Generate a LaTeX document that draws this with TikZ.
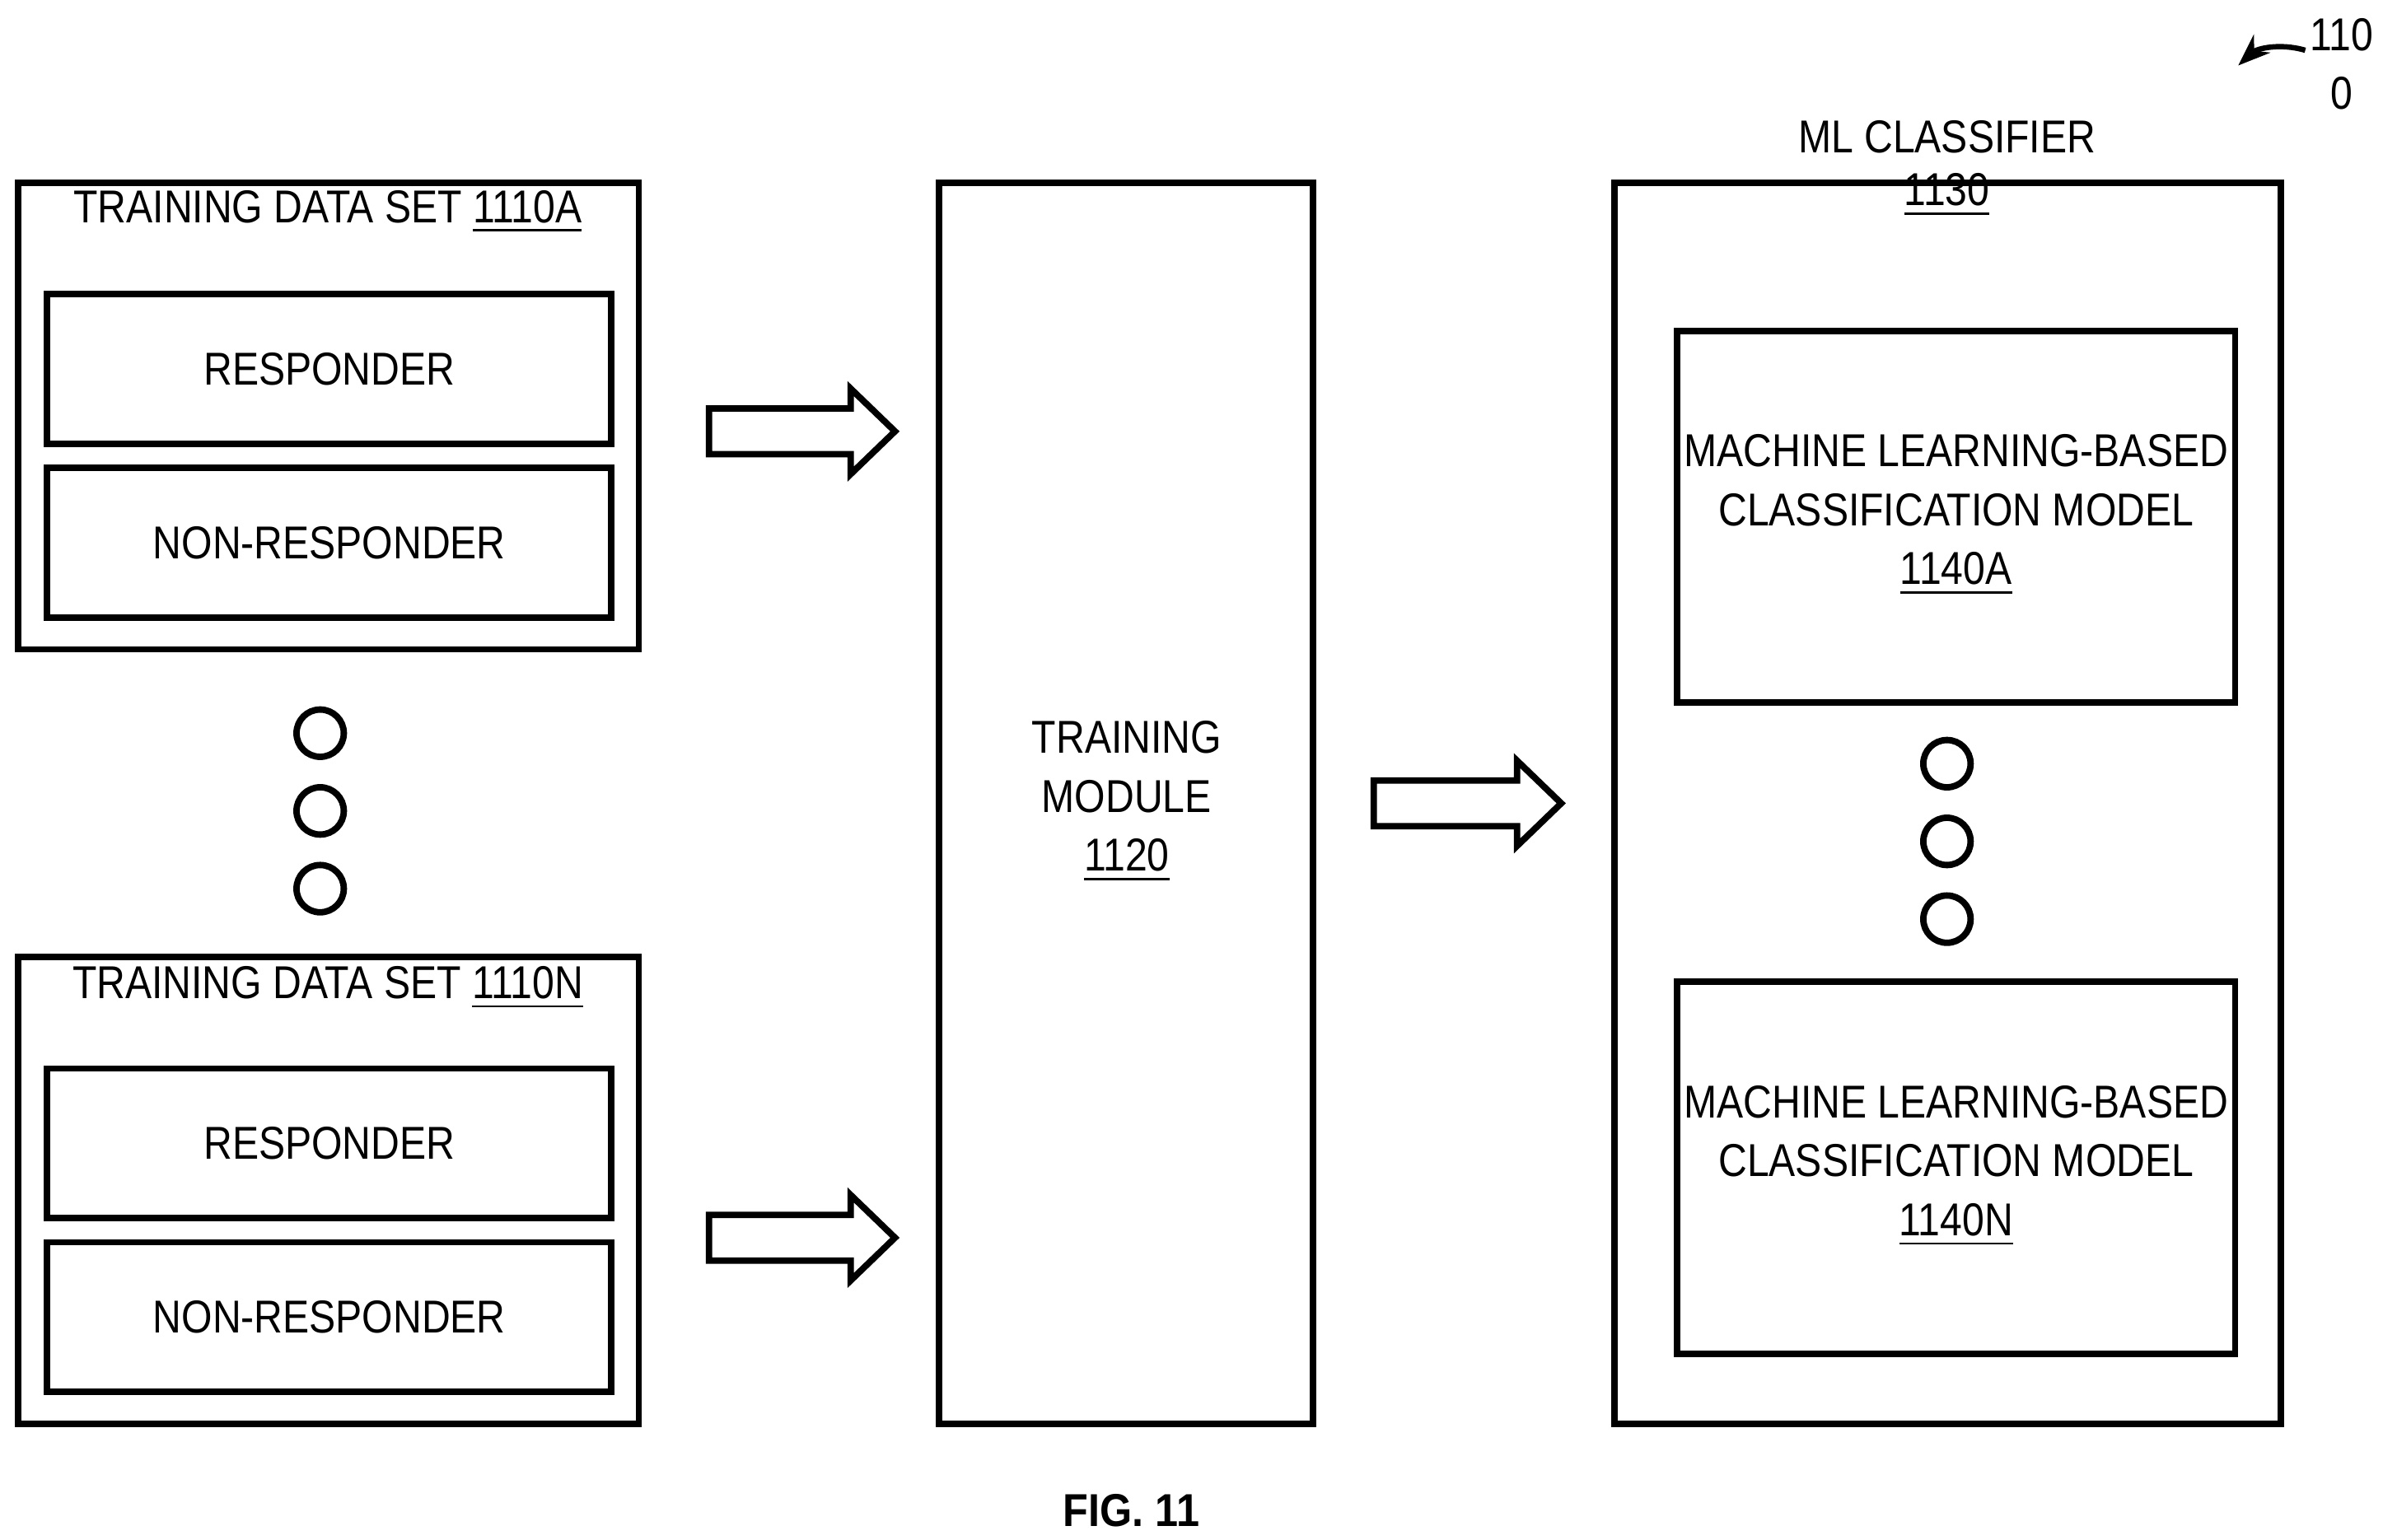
\documentclass[tikz,border=0pt]{standalone}
\usetikzlibrary{arrows.meta}
\usepackage{fontspec}
\setmainfont{Liberation Sans}[FakeStretch=0.86]
\newfontfamily\boldf{Liberation Sans}[FakeStretch=0.9]
\begin{document}
\begin{tikzpicture}[x=0.01cm,y=-0.01cm,
 box/.style={draw,line width=1.2pt},
 txt/.style={font=\fontsize{8.6}{10}\selectfont,inner sep=0pt},
 dot/.style={draw,line width=1.2pt,circle,minimum size=0.31cm,inner sep=0pt},
 barrow/.style={draw,line width=1.2pt}]
\useasboundingbox (0,0) rectangle (1563,1010);
\newcommand\blk[3]{% x1 x2 y
 \draw[barrow] (#1,#3-15) -- (#2-29,#3-15) -- (#2-29,#3-28) -- (#2,#3) -- (#2-29,#3+28) -- (#2-29,#3+15) -- (#1,#3+15) -- cycle;}
% data set A
\draw[box] (12,120) rectangle (419,426);
\node[txt] (tA) at (215,139) {TRAINING DATA SET \underline{1110A}};
\draw[box] (31,193) rectangle (401,291) node[midway,txt] (rA) {RESPONDER};
\draw[box] (31,307) rectangle (401,405) node[midway,txt] (nA) {NON-RESPONDER};
\foreach \y in {481,532,583} \node[dot] at (210,\y) {};
% data set N
\draw[box] (12,628) rectangle (419,934);
\node[txt] (tN) at (215,648) {TRAINING DATA SET \underline{1110N}};
\draw[box] (31,701) rectangle (401,799) node[midway,txt] (rN) {RESPONDER};
\draw[box] (31,815) rectangle (401,913) node[midway,txt] (nN) {NON-RESPONDER};
\blk{465}{587}{283}
\blk{465}{587}{812}
% training module
\draw[box] (616,120) rectangle (861,934);
\node[txt,align=center] (tm) at (739,526) {TRAINING\\[1pt]MODULE\\[1pt]\underline{1120}};
\blk{901}{1024}{527}
% ML classifier
\draw[box] (1059,120) rectangle (1496,934);
\node[txt] (ml) at (1277,90) {ML CLASSIFIER};
\node[txt] (mln) at (1277,128) {\underline{1130}};
\draw[box] (1100,217) rectangle (1466,461);
\node[txt,align=center] (mA) at (1283,338) {MACHINE LEARNING-BASED\\[1pt]CLASSIFICATION MODEL\\[1pt]\underline{1140A}};
\foreach \y in {501,552,603} \node[dot] at (1277,\y) {};
\draw[box] (1100,644) rectangle (1466,888);
\node[txt,align=center] (mN) at (1283,765) {MACHINE LEARNING-BASED\\[1pt]CLASSIFICATION MODEL\\[1pt]\underline{1140N}};
\node[txt,font=\boldf\bfseries\fontsize{8.6}{10}\selectfont] (fig) at (742,991) {FIG. 11};
\node[txt] (n1) at (1536,23) {110};
\node[txt] (n2) at (1536,61) {0};
\coordinate (c1) at (1512,33);
\coordinate (c2) at (1468,43);
\draw[line width=1pt,-{Stealth[length=6pt]}] (c1) .. controls (1495,28) and (1480,32) .. (c2);
\end{tikzpicture}
\end{document}
